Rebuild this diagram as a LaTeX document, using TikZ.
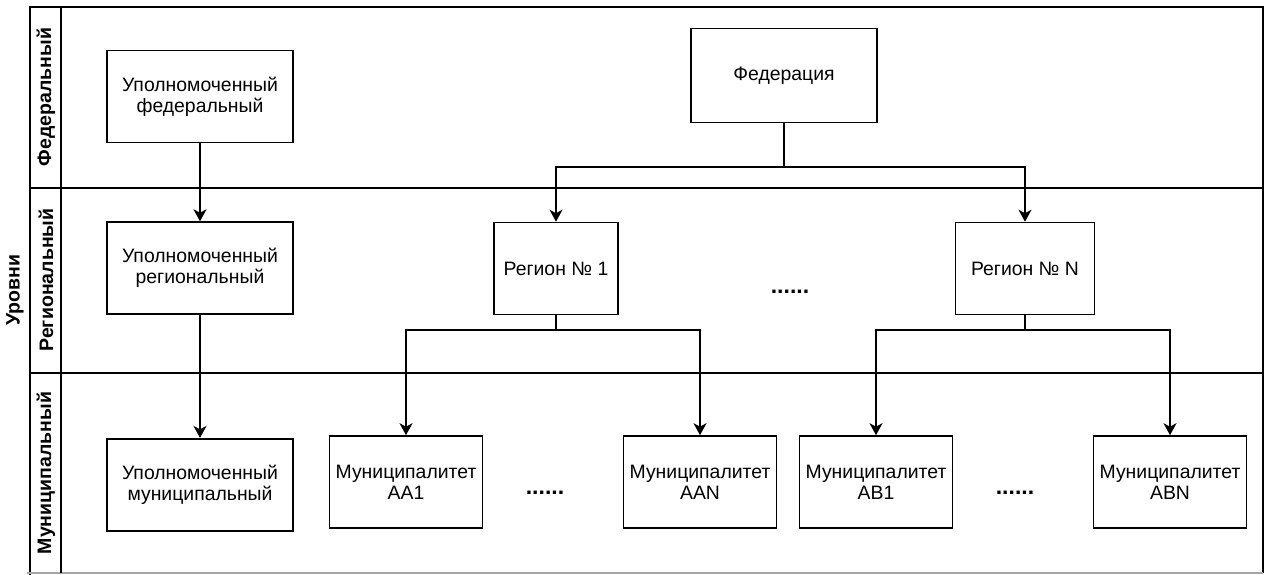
\documentclass[tikz,border=0pt]{standalone}
\usepackage{fontspec}
\setmainfont{Liberation Sans}
\usepackage{tikz}
\usetikzlibrary{arrows.meta,positioning}

\begin{document}
\begin{tikzpicture}[
		x=1pt, y=-1pt,
		node distance=78pt,
		box/.style={
			rectangle,
			draw=black,
			line width=1.6pt,
			minimum width=186pt,
			minimum height=92pt,
			align=center,
			inner sep=2pt,
			font=\fontsize{19.4}{21}\selectfont
		},
		lanelabel/.style={
			rotate=90,
			font=\bfseries\fontsize{19.5}{21}\selectfont
		},
		frame/.style={
			draw=black,
			line width=1.6pt
		},
		arrow/.style={
			-{Stealth[length=12pt,width=13pt,inset=3.5pt]},
			draw=black,
			line width=1.6pt
		},
		ellipsis/.style={
			anchor=base,
			inner sep=0pt,
			font=\bfseries\fontsize{23}{24}\selectfont
		}
		]
		
		\useasboundingbox (0,0) rectangle (1269,575);
		
		% рамка и дорожки
		\draw[frame] (1263,573) -- (1263,7) -- (30,7) -- (30,575);
		\draw[frame, draw=gray!70] (27,573) -- (1263,573);
		\draw[frame] (61,7) -- (61,573);
		\draw[frame] (30,188) -- (1263,188);
		\draw[frame] (30,373) -- (1263,373);
		
		\node[lanelabel] (levels) at (15,290) {Уровни};
		\node[lanelabel] (lanefed) at (46,97) {Федеральный};
		\node[lanelabel] (lanereg) at (46,280) {Региональный};
		\node[lanelabel] (lanemun) at (46,473) {Муниципальный};
		
		% уполномоченные
		\node[box] (fedauth) at (200,96.5) {Уполномоченный\\федеральный};
		\node[box, below=78pt of fedauth] (regauth) {Уполномоченный\\региональный};
		\node[box, below=123pt of regauth] (munauth) {Уполномоченный\\муниципальный};
		
		% федерация и регионы
		\node[box, minimum height=94pt] (fed) at (784,75.5) {Федерация};
		\node[box, minimum width=124pt] (reg1) at (556,268.5) {Регион № 1};
		\node[box, minimum width=139pt] (regN) at (1025,268.5) {Регион № N};
		
		% муниципалитеты
		\node[box, minimum width=153pt] (muna1) at (406,482) {Муниципалитет\\AA1};
		\node[box, minimum width=153pt] (munan) at (700,482) {Муниципалитет\\AAN};
		\node[box, minimum width=153pt] (munb1) at (876,482) {Муниципалитет\\AB1};
		\node[box, minimum width=153pt] (munbn) at (1170,482) {Муниципалитет\\ABN};
		
		\node[ellipsis] (dotsreg) at (790,293) {......};
		\node[ellipsis] (dotsa) at (545,494) {......};
		\node[ellipsis] (dotsb) at (1015,494) {......};
		
		\draw[arrow] (fedauth) -- (regauth);
		\draw[arrow] (regauth) -- (munauth);
		\draw[arrow] (fed.south) -- ++(0,43.5) -| (reg1.north);
		\draw[arrow] (fed.south) -- ++(0,43.5) -| (regN.north);
		\draw[arrow] (reg1.south) -- ++(0,14.7) -| (muna1.north);
		\draw[arrow] (reg1.south) -- ++(0,14.7) -| (munan.north);
		\draw[arrow] (regN.south) -- ++(0,14.7) -| (munb1.north);
		\draw[arrow] (regN.south) -- ++(0,14.7) -| (munbn.north);
		
	\end{tikzpicture}
\end{document}
